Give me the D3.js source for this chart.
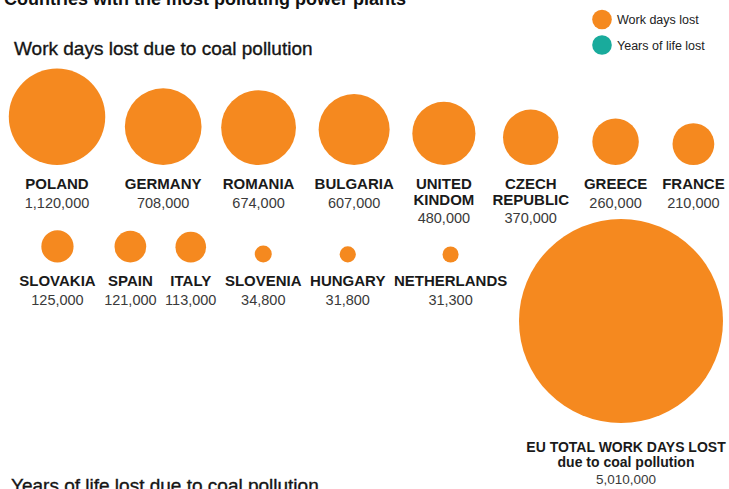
<!DOCTYPE html>
<html>
<head>
<meta charset="utf-8">
<script src="https://cdn.jsdelivr.net/npm/d3@7"></script>
<style>
  html, body { margin: 0; padding: 0; background: #ffffff; }
  svg { display: block; font-family: "Liberation Sans", Arial, Helvetica, sans-serif; }
</style>
</head>
<body>
<script>
// ---------- data ----------
const countries = ["POLAND", "GERMANY", "ROMANIA", "BULGARIA", "UNITED KINDOM", "CZECH REPUBLIC", "GREECE", "FRANCE",
                   "SLOVAKIA", "SPAIN", "ITALY", "SLOVENIA", "HUNGARY", "NETHERLANDS"];
const workDaysLost = [1120000, 708000, 674000, 607000, 480000, 370000, 260000, 210000,
                      125000, 121000, 113000, 34800, 31800, 31300];
const rowSizes = [8, 6];
const euTotalWorkDays = 5010000;
const euLabelLines = ["EU TOTAL WORK DAYS LOST", "due to coal pollution"];
const legendLabels = ["Work days lost", "Years of life lost"];
const mainTitle = "Countries with the most polluting power plants";
const sectionTitles = ["Work days lost due to coal pollution", "Years of life lost due to coal pollution"];

// ---------- styles ----------
const W = 729, H = 489;
const ORANGE = "#f5891f";
const TEAL = "#19ab9c";
const fmt = d3.format(",");

const svg = d3.select("body").append("svg").attr("width", W).attr("height", H);

// size scale (area proportional to value)
const r = d3.scaleSqrt().domain([0, euTotalWorkDays]).range([0, 102]);

// titles
svg.append("text").attr("x", 4).attr("y", 5)
  .attr("font-size", 18).attr("font-weight", "bold").attr("fill", "#111").text(mainTitle);
svg.append("text").attr("x", 14).attr("y", 55)
  .attr("font-size", 19).attr("fill", "#151515").attr("stroke", "#151515").attr("stroke-width", 0.35)
  .text(sectionTitles[0]);
svg.append("text").attr("x", 11).attr("y", 492)
  .attr("font-size", 19).attr("fill", "#151515").attr("stroke", "#151515").attr("stroke-width", 0.35)
  .text(sectionTitles[1]);

// legend
const legendColors = [ORANGE, TEAL];
const lg = svg.append("g").selectAll("g").data(legendLabels).join("g")
  .attr("transform", (d, i) => `translate(602,${19.5 + i * 25.5})`);
lg.append("circle").attr("r", 9.8).attr("fill", (d, i) => legendColors[i]);
lg.append("text").attr("x", 15).attr("y", 4.5).attr("font-size", 12.5).attr("fill", "#222").text(d => d);

// rows layout: item width blends circle diameter and label width
const rows = [
  { left: 8.8,   gap: 19.6, labelWeight: 0.75, bottom: 165,   nameY: 189, lineH: 15.5, valGap: 18.8 },
  { left: 19.25, gap: 8.5,  labelWeight: 1.0,  bottom: 262.5, nameY: 286, lineH: 15.5, valGap: 19 }
];

const data = countries.map((c, i) => ({ name: c, value: workDaysLost[i] }));
let idx = 0;
rowSizes.forEach((n, ri) => {
  const cfg = rows[ri];
  const items = data.slice(idx, idx + n);
  idx += n;
  const groups = svg.append("g").selectAll("g").data(items).join("g");
  groups.each(function (d) {
    const g = d3.select(this);
    const lines = d.name.split(" ");
    lines.forEach((ln, li) => {
      g.append("text").attr("text-anchor", "middle")
        .attr("y", cfg.nameY + li * cfg.lineH)
        .attr("font-size", 15).attr("font-weight", "bold").attr("fill", "#1a1a1a").text(ln);
    });
    g.append("text").attr("text-anchor", "middle")
      .attr("y", cfg.nameY + (lines.length - 1) * cfg.lineH + cfg.valGap)
      .attr("font-size", 14.5).attr("fill", "#3a3a3a").text(fmt(d.value));
    let tw = 0;
    g.selectAll("text").each(function () { tw = Math.max(tw, this.getComputedTextLength()); });
    const dia = 2 * r(d.value);
    d.w = cfg.labelWeight * Math.max(dia, tw) + (1 - cfg.labelWeight) * dia;
  });
  let cursor = cfg.left;
  items.forEach(d => { d.x = cursor + d.w / 2; cursor += d.w + cfg.gap; });
  groups.attr("transform", d => `translate(${d.x},0)`);
  groups.insert("circle", ":first-child")
    .attr("cx", 0)
    .attr("cy", d => cfg.bottom - r(d.value))
    .attr("r", d => r(d.value))
    .attr("fill", ORANGE);
});

// EU total
const euR = r(euTotalWorkDays);
const euX = 723 - euR;
svg.append("circle").attr("cx", euX).attr("cy", 423 - euR).attr("r", euR).attr("fill", ORANGE);
const euG = svg.append("g").attr("transform", `translate(${euX + 5},0)`);
euLabelLines.forEach((t, i) => {
  euG.append("text").attr("text-anchor", "middle").attr("y", 452 + i * 15)
    .attr("font-size", 14).attr("font-weight", "bold").attr("fill", "#1a1a1a").text(t);
});
euG.append("text").attr("text-anchor", "middle").attr("y", 484)
  .attr("font-size", 13.5).attr("fill", "#3a3a3a").text(fmt(euTotalWorkDays));
</script>
</body>
</html>
